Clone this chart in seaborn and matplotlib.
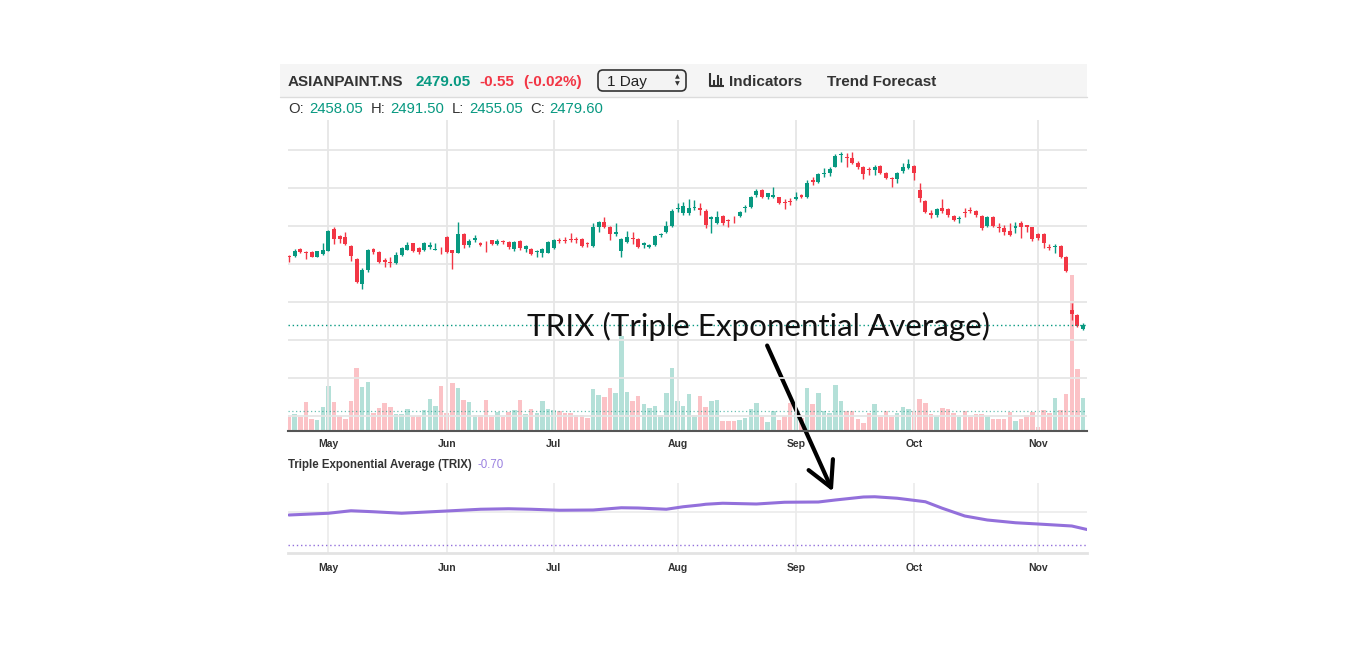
import numpy as np
import pandas as pd
import seaborn as sns
import matplotlib.pyplot as plt
from matplotlib.patches import Rectangle, FancyBboxPatch, FancyArrowPatch
from matplotlib.lines import Line2D
from matplotlib.transforms import IdentityTransform

# daily candles, one per trading day (index 0 = late April)
opens = [2842, 2844, 2881, 2865, 2865, 2839, 2851, 2870, 2983, 2947,
         2944, 2897, 2825, 2695, 2769, 2877, 2865, 2821, 2813, 2807,
         2848, 2874, 2909, 2883, 2874, 2891, 2876, 2881, 2944, 2874,
         2860, 2958, 2900, 2926, 2912, 2912, 2924, 2905, 2919, 2916,
         2879, 2921, 2879, 2877, 2861, 2856, 2860, 2882, 2926, 2926,
         2933, 2930, 2932, 2909, 2895, 2996, 3019, 2996, 2956, 2870,
         2918, 2937, 2932, 2898, 2891, 2900, 2951, 2970, 3002, 3088,
         3067, 3067, 3093, 3093, 3081, 3037, 3017, 3053, 3032, 3049,
         3053, 3095, 3102, 3163, 3189, 3151, 3154, 3151, 3126, 3130,
         3144, 3163, 3151, 3242, 3233, 3274, 3281, 3312, 3372, 3361,
         3356, 3333, 3309, 3298, 3295, 3316, 3277, 3251, 3247, 3291,
         3307, 3316, 3189, 3131, 3070, 3058, 3093, 3088, 3053, 3035,
         3075, 3084, 3079, 3053, 3000, 3049, 2996, 2988, 2975, 2988,
         3017, 3003, 2993, 2956, 2958, 2891, 2888, 2895, 2839, 2558,
         2532, 2458.05]
highs = [2845, 2877, 2886, 2866, 2868, 2870, 2912, 2980, 2993, 2953,
         2967, 2900, 2830, 2777, 2877, 2886, 2869, 2830, 2835, 2865,
         2891, 2918, 2912, 2891, 2918, 2918, 2909, 2891, 2947, 2876,
         3023, 2961, 2930, 2953, 2918, 2921, 2928, 2930, 2926, 2921,
         2921, 2926, 2898, 2886, 2874, 2884, 2921, 2930, 2935, 2944,
         2965, 2940, 2935, 2914, 3014, 3026, 3049, 3002, 3014, 2935,
         2975, 2970, 2938, 2918, 2903, 2953, 2965, 3028, 3088, 3119,
         3128, 3140, 3137, 3119, 3088, 3053, 3081, 3058, 3035, 3053,
         3081, 3110, 3158, 3193, 3195, 3175, 3203, 3154, 3140, 3145,
         3181, 3167, 3242, 3256, 3281, 3303, 3312, 3379, 3391, 3382,
         3391, 3344, 3316, 3312, 3321, 3321, 3282, 3256, 3282, 3330,
         3354, 3321, 3228, 3137, 3084, 3093, 3140, 3093, 3058, 3053,
         3093, 3098, 3084, 3058, 3053, 3053, 3014, 3005, 3014, 3023,
         3028, 3007, 2996, 2961, 2961, 2905, 2905, 2900, 2842, 2593,
         2535, 2491.50]
lows = [2812, 2839, 2860, 2827, 2835, 2835, 2849, 2868, 2905, 2909,
        2900, 2818, 2702, 2667, 2760, 2853, 2804, 2786, 2786, 2800,
        2842, 2874, 2865, 2853, 2870, 2877, 2874, 2853, 2856, 2772,
        2856, 2883, 2888, 2918, 2895, 2865, 2900, 2900, 2903, 2881,
        2868, 2874, 2865, 2849, 2839, 2839, 2856, 2877, 2909, 2912,
        2917, 2909, 2891, 2888, 2891, 2967, 2988, 2926, 2947, 2835,
        2912, 2905, 2882, 2882, 2882, 2895, 2940, 2965, 2996, 3075,
        3058, 3058, 3084, 3058, 2988, 2965, 3010, 3005, 2993, 3014,
        3046, 3075, 3095, 3154, 3149, 3140, 3149, 3116, 3088, 3110,
        3137, 3149, 3147, 3216, 3228, 3256, 3263, 3309, 3338, 3312,
        3326, 3298, 3246, 3268, 3268, 3272, 3246, 3207, 3228, 3281,
        3302, 3242, 3128, 3067, 3040, 3046, 3067, 3046, 3026, 3014,
        3049, 3070, 3046, 2979, 2993, 2993, 2970, 2952, 2947, 2961,
        2935, 2970, 2923, 2926, 2882, 2874, 2856, 2830, 2760, 2505,
        2467, 2455.05]
closes = [2835, 2870, 2865, 2860, 2839, 2867, 2874, 2974, 2930, 2930,
          2905, 2844, 2707, 2769, 2874, 2862, 2809, 2813, 2807, 2848,
          2883, 2900, 2870, 2865, 2909, 2900, 2881, 2877, 2862, 2856,
          2958, 2900, 2923, 2935, 2900, 2909, 2905, 2921, 2914, 2888,
          2916, 2886, 2893, 2854, 2867, 2879, 2917, 2926, 2921, 2921,
          2926, 2926, 2895, 2904, 2993, 3019, 2996, 2956, 2970, 2930,
          2940, 2930, 2891, 2912, 2898, 2947, 2958, 3002, 3081, 3096,
          3105, 3093, 3102, 3084, 3005, 3045, 3049, 3017, 3026, 3046,
          3072, 3102, 3151, 3186, 3154, 3172, 3163, 3123, 3121, 3126,
          3151, 3154, 3228, 3233, 3274, 3281, 3298, 3368, 3379, 3356,
          3330, 3309, 3272, 3293, 3312, 3277, 3251, 3246, 3277, 3309,
          3326, 3277, 3146, 3075, 3058, 3089, 3081, 3058, 3032, 3040,
          3070, 3079, 3058, 2988, 3049, 3000, 2988, 2970, 2953, 3000,
          2993, 2996, 2930, 2935, 2909, 2882, 2895, 2839, 2763, 2537,
          2474, 2479.60]
# volume, thousand shares
volumes = [685, 850, 685, 1450, 600, 550, 1185, 2235, 1450, 735,
           600, 1500, 3135, 2200, 2450, 900, 1135, 1400, 1200, 865,
           865, 1085, 735, 765, 1035, 1585, 1235, 2250, 900, 2400,
           2150, 1535, 1450, 815, 800, 1535, 685, 935, 700, 965,
           1035, 1565, 850, 1100, 900, 1485, 1100, 1035, 985, 885,
           900, 785, 785, 665, 2085, 1785, 1715, 2165, 1900, 4750,
           1950, 1485, 1735, 1350, 1135, 1265, 800, 1915, 3150, 1515,
           1235, 1835, 815, 1735, 1185, 1515, 1550, 500, 485, 515,
           550, 665, 1085, 1415, 715, 465, 985, 550, 750, 1385,
           900, 650, 2135, 1350, 1915, 1000, 885, 2300, 1500, 1000,
           1000, 585, 415, 885, 1365, 715, 1000, 715, 915, 1215,
           1085, 1000, 1585, 1415, 850, 765, 1135, 1085, 915, 715,
           1015, 715, 850, 850, 750, 600, 600, 600, 965, 500,
           600, 815, 965, 185, 1050, 885, 1635, 1050, 1850, 7800,
           3085, 1665]

month_pos = [7, 28, 47, 69, 90, 111, 133]
month_labels = ["May", "Jun", "Jul", "Aug", "Sep", "Oct", "Nov"]

trix_pos = [0, 7, 11, 15, 20, 28, 34, 39, 43, 48, 54, 59, 62, 67, 70, 73, 74,
            77, 83, 88, 94, 97, 102, 104, 108, 113, 116, 120, 124, 129, 133,
            139, 141.7]
trix_vals = [-0.12, -0.05, 0.05, 0.01, -0.05, 0.04, 0.11, 0.13, 0.11, 0.07,
             0.08, 0.17, 0.16, 0.11, 0.21, 0.28, 0.31, 0.35, 0.32, 0.39, 0.40,
             0.48, 0.60, 0.61, 0.55, 0.41, 0.15, -0.16, -0.32, -0.43, -0.48,
             -0.56, -0.70]
trix_line = -1.32
avg_volume = 1000

GREEN = "#089981"
RED = "#f23645"
PURPLE = "#9370db"

sns.set_theme(style="white")
plt.rcParams["font.family"] = ["Liberation Sans", "DejaVu Sans"]

W, H = 1366, 646
fig = plt.figure(figsize=(W / 100, H / 100), dpi=100)


def fx(x):
    return x / W


def fy(y):
    return 1 - y / H


df = pd.DataFrame({"open": opens, "high": highs, "low": lows,
                   "close": closes, "volume": volumes})
df["pos"] = np.arange(len(df))
df["color"] = np.where(df["close"] >= df["open"], GREEN, RED)
df["body_lo"] = df[["open", "close"]].min(axis=1)
df["body_h"] = (df["close"] - df["open"]).abs().clip(lower=4)

# price + volume panel
ax = fig.add_axes([fx(288), fy(431), fx(1087) - fx(288), fy(120) - fy(431)])
axv = ax.twinx()
ax.set_zorder(axv.get_zorder() + 1)
ax.patch.set_visible(False)

axv.bar(df["pos"], df["volume"], width=0.8, color=df["color"], alpha=0.3,
        edgecolor="none", linewidth=0)
axv.axhline(avg_volume, color=GREEN, lw=0.9, ls=(0, (1, 2)), alpha=0.6)
axv.set_ylim(0, 15550)
axv.set_yticks([])
for s in axv.spines.values():
    s.set_visible(False)

ax.vlines(df["pos"], df["low"], df["high"], colors=df["color"], lw=1)
ax.bar(df["pos"], df["body_h"], bottom=df["body_lo"], width=0.7,
       color=df["color"], edgecolor="none", linewidth=0)
ax.axhline(closes[-1], color=GREEN, lw=1, ls=(0, (1, 2)))

ax.set_xlim(-0.18, 141.7)
ax.set_ylim(1921, 3558)
ax.set_yticks(range(2000, 3401, 200))
ax.set_xticks(month_pos, month_labels)
ax.grid(True, color="#e6e6e6", lw=1.3)
ax.set_axisbelow(True)
ax.tick_params(axis="y", length=0, labelleft=False, labelright=False)
ax.tick_params(axis="x", length=3, width=1, color="#999999", pad=3,
               labelsize=7.5, labelcolor="#333333")
for t in ax.get_xticklabels():
    t.set_fontweight("bold")
for side in ["top", "right", "left"]:
    ax.spines[side].set_visible(False)
ax.spines["bottom"].set_color("#555555")
ax.spines["bottom"].set_linewidth(1.5)

# TRIX panel
axt = fig.add_axes([fx(288), fy(553), fx(1087) - fx(288), fy(483) - fy(553)])
sns.lineplot(x=trix_pos, y=trix_vals, ax=axt, color=PURPLE, lw=2.2)
axt.axhline(trix_line, color=PURPLE, lw=1, ls=(0, (1, 2)))
axt.set_xlim(-0.18, 141.7)
axt.set_ylim(-1.64, 1.16)
axt.set_yticks([0])
axt.set_xticks(month_pos, month_labels)
axt.grid(True, color="#ebebeb", lw=1.2)
axt.set_axisbelow(True)
axt.tick_params(axis="y", length=0, labelleft=False)
axt.tick_params(axis="x", length=3, width=1, color="#bbbbbb", pad=4.3,
                labelsize=7.5, labelcolor="#333333")
for t in axt.get_xticklabels():
    t.set_fontweight("bold")
for side in ["top", "right", "left"]:
    axt.spines[side].set_visible(False)
axt.spines["bottom"].set_color("#e3e3e3")
axt.spines["bottom"].set_linewidth(2)

fig.text(fx(288), fy(468.3), "Triple Exponential Average (TRIX)",
         fontsize=8.3, fontweight="bold", color="#333333")
fig.text(fx(477), fy(468.3), "-0.70", fontsize=8.3, color="#9a80e0")

# header bar
fig.add_artist(Rectangle((fx(280), fy(97)), fx(1087) - fx(280), fy(64) - fy(97),
                         transform=fig.transFigure, facecolor="#f5f5f5",
                         edgecolor="none"))
fig.add_artist(Line2D([fx(280), fx(1087)], [fy(97), fy(97)], color="#dcdcdc",
                      lw=1))
hdr = dict(fontsize=11, fontweight="bold", va="baseline")
fig.text(fx(288), fy(86), "ASIANPAINT.NS", color="#333333", **hdr)
fig.text(fx(415), fy(86), "2479.05", color=GREEN, **hdr)
fig.text(fx(479), fy(86), "-0.55", color=RED, **hdr)
fig.text(fx(523), fy(86), "(-0.02%)", color=RED, **hdr)
fig.text(fx(729), fy(86), "Indicators", color="#333333", **hdr)
fig.text(fx(827), fy(86), "Trend Forecast", color="#333333", **hdr)

fig.add_artist(FancyBboxPatch((598, H - 91), 88, 21,
                              boxstyle="round,pad=0,rounding_size=5",
                              transform=IdentityTransform(),
                              facecolor="#f3f3f3", edgecolor="#333333", lw=1.2))
fig.text(fx(607), fy(86), "1 Day", fontsize=11, color="#222222", va="baseline")
fig.text(fx(677), fy(77), "\u25b2", fontsize=4.5, color="#333333",
         ha="center", va="center", family="DejaVu Sans")
fig.text(fx(677), fy(84), "\u25bc", fontsize=4.5, color="#333333",
         ha="center", va="center", family="DejaVu Sans")

# little bar-chart icon before "Indicators"
icon_kw = dict(transform=IdentityTransform(), color="#333333", lw=1.5,
               solid_capstyle="butt")
fig.add_artist(Line2D([710, 710, 724], [H - 73, H - 86, H - 86], **icon_kw))
for bx, top in [(714, 80), (717.5, 75), (721, 78)]:
    fig.add_artist(Line2D([bx, bx], [H - 85, H - top], **icon_kw))

ohlc = [("O:", 288, "#333333"), ("2458.05", 309, GREEN),
        ("H:", 371, "#333333"), ("2491.50", 390, GREEN),
        ("L:", 452, "#333333"), ("2455.05", 469, GREEN),
        ("C:", 530, "#333333"), ("2479.60", 549, GREEN)]
for txt, x, c in ohlc:
    fig.text(fx(x), fy(113.3), txt, fontsize=10.7, color=c, va="baseline")

# big annotation
fig.text(fx(527), fy(336), "TRIX (Triple Exponential Average)",
         fontsize=22.6, color="#111111", family=["Lato", "DejaVu Sans"],
         va="baseline")
fig.add_artist(FancyArrowPatch((766, H - 343), (834, H - 494),
                               transform=IdentityTransform(),
                               arrowstyle="->,head_length=0.6,head_width=0.32",
                               mutation_scale=30, lw=3, color="black"))

fig.savefig("out.png", dpi=100)
